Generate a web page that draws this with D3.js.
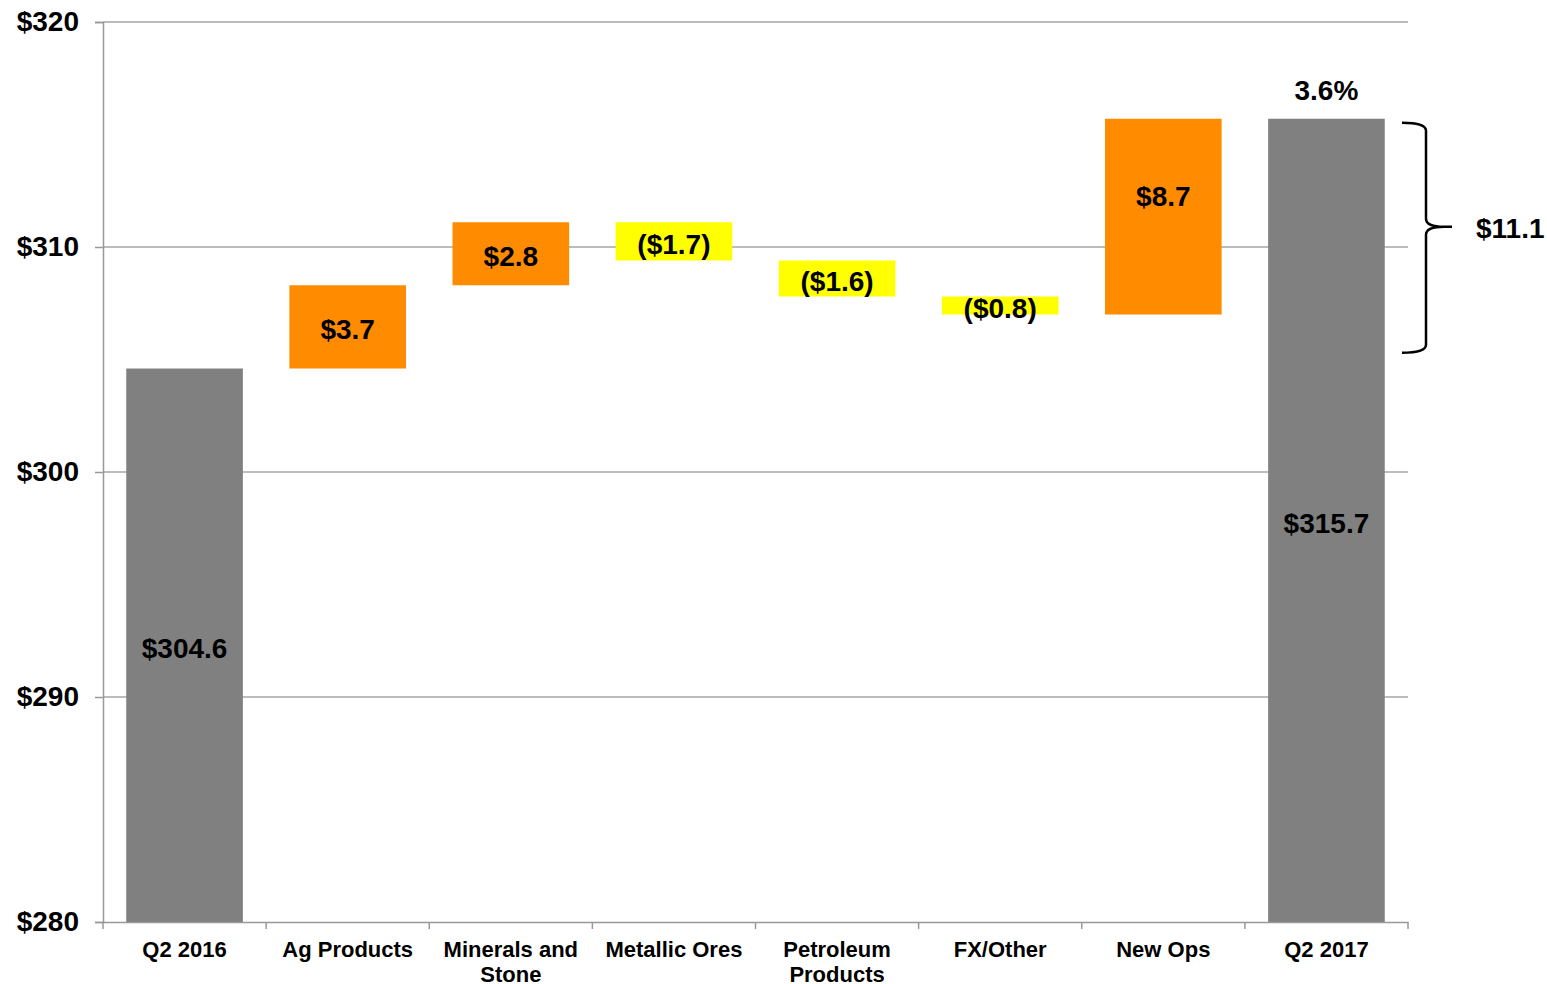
<!DOCTYPE html>
<html>
<head>
<meta charset="utf-8">
<script src="https://cdn.jsdelivr.net/npm/d3@7"></script>
<style>
  body { margin: 0; background: #fff; }
  text { font-family: "Liberation Sans", Arial, sans-serif; font-weight: bold; fill: #000; }
</style>
</head>
<body>
<div id="chart"></div>
<script>
const categories = ['Q2 2016', 'Ag Products', 'Minerals and Stone', 'Metallic Ores', 'Petroleum Products', 'FX/Other', 'New Ops', 'Q2 2017'];
const kinds = ['total', 'delta', 'delta', 'delta', 'delta', 'delta', 'delta', 'total'];
const values = [304.6, 3.7, 2.8, -1.7, -1.6, -0.8, 8.7, 315.7];
const yTicks = [280, 290, 300, 310, 320];
const growthLabel = '3.6%';
const bracketLabel = '$11.1';

const width = 1547, height = 984;
const margin = { top: 22, right: 139, bottom: 62, left: 103 };

const svg = d3.select('#chart').append('svg')
  .attr('width', width)
  .attr('height', height);

const x = d3.scaleBand()
  .domain(categories)
  .range([margin.left, width - margin.right])
  .paddingInner(0.285)
  .paddingOuter(0.1425);

const y = d3.scaleLinear()
  .domain([280, 320])
  .range([height - margin.bottom, margin.top]);

// waterfall start/end
let running = 0;
const bars = categories.map((c, i) => {
  let y0, y1;
  if (kinds[i] === 'total') {
    y0 = 280; y1 = values[i]; running = values[i];
  } else {
    y0 = running; y1 = running + values[i]; running = y1;
  }
  return { cat: c, kind: kinds[i], value: values[i], y0, y1 };
});

// gridlines
svg.append('g')
  .selectAll('line')
  .data(yTicks.filter(d => d !== 280))
  .join('line')
  .attr('x1', margin.left)
  .attr('x2', width - margin.right)
  .attr('y1', d => y(d))
  .attr('y2', d => y(d))
  .attr('stroke', '#a6a6a6')
  .attr('stroke-width', 1.5);

// bars
const fill = d => d.kind === 'total' ? '#808080' : (d.value >= 0 ? '#ff8c00' : '#ffff00');
svg.append('g')
  .selectAll('rect')
  .data(bars)
  .join('rect')
  .attr('x', d => x(d.cat))
  .attr('width', x.bandwidth())
  .attr('y', d => y(Math.max(d.y0, d.y1)))
  .attr('height', d => Math.abs(y(d.y0) - y(d.y1)))
  .attr('fill', fill);

// y axis
const yAxis = svg.append('g')
  .attr('transform', `translate(${margin.left},0)`)
  .call(d3.axisLeft(y).tickValues(yTicks).tickSize(8).tickFormat(d => '$' + d));
yAxis.select('.domain').attr('stroke', '#999').attr('stroke-width', 1.5);
yAxis.selectAll('.tick line').attr('stroke', '#999').attr('stroke-width', 1.5);
yAxis.selectAll('.tick text')
  .attr('x', -24)
  .attr('font-size', 28)
  .attr('font-family', '"Liberation Sans", Arial, sans-serif')
  .attr('font-weight', 'bold')
  .attr('fill', '#000');

// x axis
const xAxis = svg.append('g')
  .attr('transform', `translate(0,${y(280)})`)
  .call(d3.axisBottom(x).tickSize(0).tickFormat(''));
xAxis.select('.domain').attr('stroke', '#999').attr('stroke-width', 1.5);
const boundaries = d3.range(categories.length + 1).map(i => margin.left + i * (width - margin.right - margin.left) / categories.length);
xAxis.selectAll('.bound')
  .data(boundaries)
  .join('line')
  .attr('class', 'bound')
  .attr('x1', d => d).attr('x2', d => d)
  .attr('y1', 0).attr('y2', 7)
  .attr('stroke', '#999').attr('stroke-width', 1.5);

// category labels (wrap to two lines where needed)
const wrap = { 'Minerals and Stone': ['Minerals and', 'Stone'], 'Petroleum Products': ['Petroleum', 'Products'] };
const catLabel = svg.append('g')
  .selectAll('text')
  .data(categories)
  .join('text')
  .attr('text-anchor', 'middle')
  .attr('font-size', 22)
  .attr('x', d => x(d) + x.bandwidth() / 2)
  .attr('y', y(280) + 35);
catLabel.each(function (d) {
  const lines = wrap[d] || [d];
  d3.select(this).selectAll('tspan')
    .data(lines)
    .join('tspan')
    .attr('x', x(d) + x.bandwidth() / 2)
    .attr('dy', (l, i) => i === 0 ? 0 : 25)
    .text(l => l);
});

// value labels; the New Ops label sits in the upper part of its bar
const fmt = d => d.kind === 'total' ? '$' + d.value.toFixed(1)
  : (d.value < 0 ? '($' + Math.abs(d.value).toFixed(1) + ')' : '$' + d.value.toFixed(1));
const labelY = d => {
  const top = y(Math.max(d.y0, d.y1)), bot = y(Math.min(d.y0, d.y1));
  if (d.kind === 'delta' && bot - top > 150) return top + 78;
  return (top + bot) / 2 + 3;
};
svg.append('g')
  .selectAll('text')
  .data(bars)
  .join('text')
  .attr('text-anchor', 'middle')
  .attr('dominant-baseline', 'central')
  .attr('font-size', 28)
  .attr('x', d => x(d.cat) + x.bandwidth() / 2)
  .attr('y', labelY)
  .text(fmt);

// growth label above last bar
const last = bars[bars.length - 1];
svg.append('text')
  .attr('text-anchor', 'middle')
  .attr('font-size', 28)
  .attr('x', x(last.cat) + x.bandwidth() / 2)
  .attr('y', y(last.y1) - 19)
  .text(growthLabel);

// bracket
const bTop = y(last.y1) + 4, bBot = y(305.3), bTip = y(310.9);
const bx = 1402, bw = 24, r = 8, tipX = 1452;
const bracket = d3.path();
bracket.moveTo(bx, bTop);
bracket.quadraticCurveTo(bx + bw, bTop, bx + bw, bTop + r);
bracket.lineTo(bx + bw, bTip - r);
bracket.quadraticCurveTo(bx + bw, bTip, tipX - 8, bTip);
bracket.lineTo(tipX, bTip);
bracket.moveTo(tipX - 8, bTip);
bracket.quadraticCurveTo(bx + bw, bTip, bx + bw, bTip + r);
bracket.lineTo(bx + bw, bBot - r);
bracket.quadraticCurveTo(bx + bw, bBot, bx, bBot);
svg.append('path')
  .attr('d', bracket.toString())
  .attr('fill', 'none')
  .attr('stroke', '#000')
  .attr('stroke-width', 2.5);

svg.append('text')
  .attr('x', 1476)
  .attr('y', bTip + 2)
  .attr('dominant-baseline', 'central')
  .attr('font-size', 28)
  .text(bracketLabel);
</script>
</body>
</html>
